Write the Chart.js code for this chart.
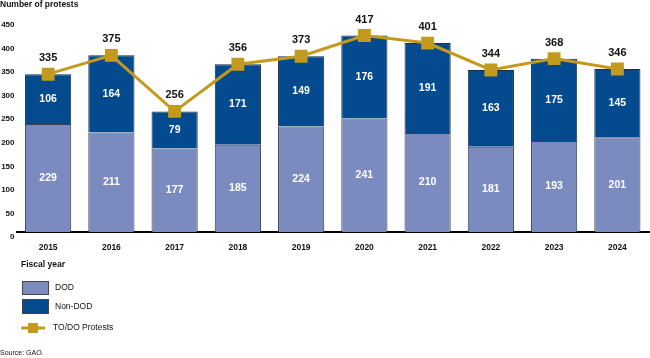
<!DOCTYPE html>
<html>
<head>
<meta charset="utf-8">
<script src="https://cdn.jsdelivr.net/npm/chart.js@4"></script>
<style>
  body { margin: 0; background: #fff; }
  #wrap { width: 650px; height: 358px; position: relative; }
</style>
</head>
<body>
<div id="wrap"><canvas id="chart" width="650" height="358"></canvas></div>
<script>
const years = ['2015', '2016', '2017', '2018', '2019', '2020', '2021', '2022', '2023', '2024'];
const dod = [229, 211, 177, 185, 224, 241, 210, 181, 193, 201];
const nonDod = [106, 164, 79, 171, 149, 176, 191, 163, 175, 145];
const todo = [335, 375, 256, 356, 373, 417, 401, 344, 368, 346];

const DOD_COLOR = '#7b8bbf';
const NON_DOD_COLOR = '#034b8e';
const GOLD = '#c39a1e';
const FONT = '"Liberation Sans", Arial, sans-serif';

// labels inside bars, totals above points, plus title/legend/source text
const labelsPlugin = {
  id: 'labels',
  afterDatasetsDraw(chart) {
    const ctx = chart.ctx;
    ctx.save();
    ctx.textAlign = 'center';
    ctx.textBaseline = 'middle';
    ctx.font = 'bold 10.5px ' + FONT;
    ctx.fillStyle = '#fff';
    [0, 1].forEach(i => {
      const meta = chart.getDatasetMeta(i);
      meta.data.forEach((bar, j) => {
        const mid = (bar.y + bar.base) / 2;
        ctx.fillText(chart.data.datasets[i].data[j], bar.x, mid);
      });
    });
    ctx.font = 'bold 11px ' + FONT;
    ctx.fillStyle = '#111';
    chart.getDatasetMeta(2).data.forEach((pt, j) => {
      ctx.fillText(todo[j], pt.x, pt.y - 16);
    });
    ctx.restore();
  },
  afterDraw(chart) {
    const ctx = chart.ctx;
    ctx.save();
    ctx.textBaseline = 'middle';
    ctx.textAlign = 'left';
    ctx.fillStyle = '#111';
    ctx.font = 'bold 8.5px ' + FONT;
    ctx.fillText('Number of protests', 0, 5);
    ctx.fillText('Fiscal year', 21, 265);

    // legend
    ctx.fillStyle = DOD_COLOR;
    ctx.fillRect(22, 281, 26, 13);
    ctx.strokeStyle = '#444';
    ctx.lineWidth = 1;
    ctx.strokeRect(22.5, 281.5, 26, 13);
    ctx.fillStyle = NON_DOD_COLOR;
    ctx.fillRect(22, 299, 26, 14);
    ctx.strokeRect(22.5, 299.5, 26, 14);
    ctx.font = '8.5px ' + FONT;
    ctx.fillStyle = '#111';
    ctx.fillText('DOD', 55, 288);
    ctx.fillText('Non-DOD', 55, 307);

    ctx.strokeStyle = GOLD;
    ctx.lineWidth = 3;
    ctx.beginPath();
    ctx.moveTo(21, 328);
    ctx.lineTo(45, 328);
    ctx.stroke();
    ctx.fillStyle = GOLD;
    ctx.fillRect(28, 323, 10, 10);
    ctx.fillStyle = '#111';
    ctx.fillText('TO/DO Protests', 53, 328);

    ctx.font = '7px ' + FONT;
    ctx.fillText('Source: GAO.', 0, 353);
    ctx.restore();
  }
};

new Chart(document.getElementById('chart'), {
  type: 'bar',
  data: {
    labels: years,
    datasets: [
      {
        label: 'DOD',
        data: dod,
        backgroundColor: DOD_COLOR,
        borderColor: '#3a3f52',
        borderWidth: 1,
        stack: 'bars',
        order: 1
      },
      {
        label: 'Non-DOD',
        data: nonDod,
        backgroundColor: NON_DOD_COLOR,
        borderColor: '#1e2b44',
        borderWidth: 1,
        stack: 'bars',
        order: 1
      },
      {
        type: 'line',
        label: 'TO/DO Protests',
        data: todo,
        borderColor: GOLD,
        backgroundColor: GOLD,
        borderWidth: 3,
        pointStyle: 'rect',
        pointRadius: 7,
        pointHoverRadius: 7,
        tension: 0,
        stack: 'line',
        order: 0
      }
    ]
  },
  options: {
    responsive: false,
    animation: false,
    layout: { autoPadding: false, padding: { top: 20, right: 1, left: 0, bottom: 0 } },
    plugins: {
      legend: { display: false },
      tooltip: { enabled: false }
    },
    datasets: {
      bar: { barPercentage: 0.73, categoryPercentage: 1 }
    },
    scales: {
      x: {
        stacked: true,
        grid: { display: false, drawTicks: false },
        border: { display: true, color: '#000', width: 2 },
        ticks: {
          color: '#111',
          font: { family: FONT, size: 8.5, weight: 'bold' },
          padding: 11
        },
        afterFit: (scale) => { scale.height = 126; }
      },
      y: {
        stacked: true,
        min: 0,
        max: 450,
        grid: { display: false, drawTicks: false },
        border: { display: false },
        ticks: {
          stepSize: 50,
          color: '#111',
          font: { family: FONT, size: 8, weight: 'bold' },
          padding: 2,
          labelOffset: 5
        },
        afterFit: (scale) => { scale.width = 16.5; }
      }
    }
  },
  plugins: [labelsPlugin]
});
</script>
</body>
</html>
